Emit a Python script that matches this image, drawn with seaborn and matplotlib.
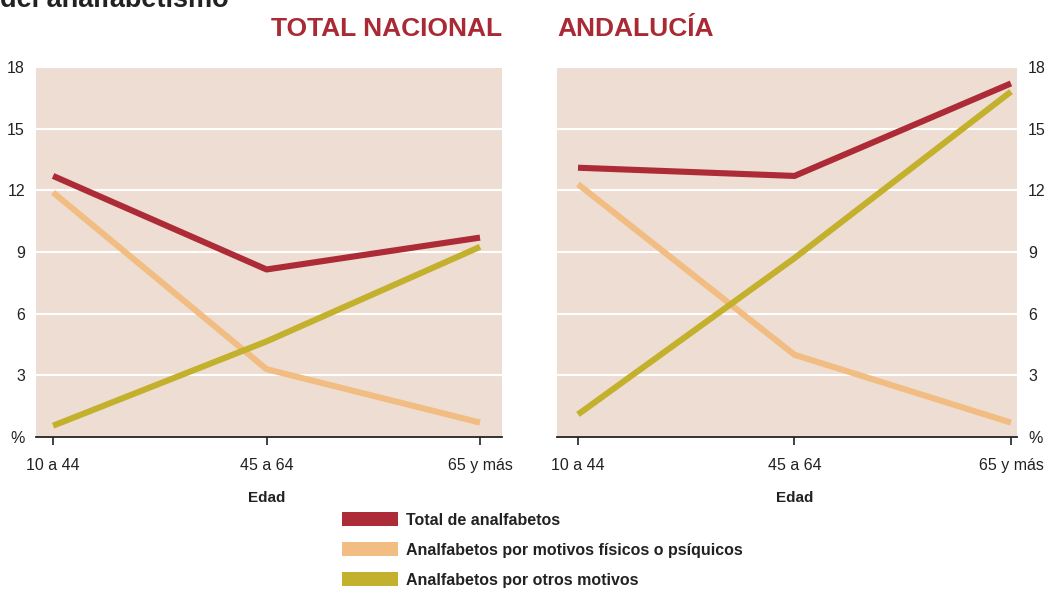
import matplotlib
matplotlib.use("Agg")
import matplotlib.pyplot as plt
from matplotlib.patches import Patch
import seaborn as sns
import pandas as pd

edades = ["10 a 44", "45 a 64", "65 y más"]
series = ["Total de analfabetos",
          "Analfabetos por motivos físicos o psíquicos",
          "Analfabetos por otros motivos"]
nacional_total = [12.7, 8.15, 9.7]
nacional_fisicos = [11.9, 3.3, 0.7]
nacional_otros = [0.55, 4.65, 9.25]
andalucia_total = [13.1, 12.7, 17.2]
andalucia_fisicos = [12.3, 4.0, 0.7]
andalucia_otros = [1.1, 8.7, 16.8]
yticks = [0, 3, 6, 9, 12, 15, 18]
ytick_labels = ["%", "3", "6", "9", "12", "15", "18"]
colores = ["#AC2B37", "#F2BD82", "#C3B12D"]
bg = "#EEDDD2"
title_color = "#A92A35"

def build(total, fis, otros):
    rows = []
    for s, vals in zip(series, [total, fis, otros]):
        for i, (e, v) in enumerate(zip(edades, vals)):
            rows.append({"pos": i, "edad": e, "serie": s, "valor": v})
    return pd.DataFrame(rows)

df_nac = build(nacional_total, nacional_fisicos, nacional_otros)
df_and = build(andalucia_total, andalucia_fisicos, andalucia_otros)

sns.set_style("white")
plt.rcParams["font.family"] = ["Liberation Sans", "DejaVu Sans"]

W, H = 1053, 589
fig = plt.figure(figsize=(W / 100, H / 100), dpi=100)

def px_axes(x0, x1, y0, y1):
    return fig.add_axes([x0 / W, 1 - y1 / H, (x1 - x0) / W, (y1 - y0) / H])

ax1 = px_axes(36, 502, 67, 437)
ax2 = px_axes(557, 1017, 67, 437)

palette = dict(zip(series, colores))
for ax, df, xlim, side, title in [
    (ax1, df_nac, (-0.08, 2.103), "left", "TOTAL NACIONAL"),
    (ax2, df_and, (-0.097, 2.028), "right", "ANDALUCÍA"),
]:
    ax.set_facecolor(bg)
    sns.lineplot(data=df, x="pos", y="valor", hue="serie", palette=palette,
                 hue_order=series, linewidth=4.4, solid_capstyle="butt",
                 legend=False, ax=ax, zorder=3)
    ax.set_xlim(*xlim)
    ax.set_ylim(0, 18)
    ax.set_yticks(yticks)
    ax.set_yticklabels(ytick_labels)
    ax.set_xticks(range(len(edades)))
    ax.set_xticklabels(edades)
    ax.grid(axis="y", color="white", linewidth=1.5, zorder=1)
    ax.set_axisbelow(True)
    for sp in ["top", "left", "right"]:
        ax.spines[sp].set_visible(False)
    ax.spines["bottom"].set_color("#222222")
    ax.spines["bottom"].set_linewidth(1.3)
    ax.tick_params(axis="x", direction="out", length=6, width=1.2,
                   color="#222222", pad=9, labelsize=11.5, labelcolor="#222222", bottom=True)
    ax.tick_params(axis="y", length=0, pad=8, labelsize=11.5, labelcolor="#222222")
    if side == "right":
        ax.yaxis.tick_right()
        ax.tick_params(axis="y", length=0, pad=8)
    ax.set_ylabel("")
    ax.set_xlabel("Edad", fontsize=11, fontweight="bold", color="#222222")
    frac = (1 - xlim[0]) / (xlim[1] - xlim[0])
    ax.xaxis.set_label_coords(frac, -0.147)
    if side == "left":
        ax.text(1.0, 1.083, title, transform=ax.transAxes, ha="right", va="baseline",
                fontsize=19, fontweight="bold", color=title_color)
    else:
        ax.text(0.0, 1.083, title, transform=ax.transAxes, ha="left", va="baseline",
                fontsize=19, fontweight="bold", color=title_color)

fig.text(0.0, 1 - 7 / H, "del analfabetismo", ha="left", va="baseline",
         fontsize=19.5, fontweight="bold", color="#222222")

handles = [Patch(facecolor=c, edgecolor="none", label=s) for s, c in zip(series, colores)]
leg = fig.legend(handles=handles, loc="upper left",
                 bbox_to_anchor=(342 / W, 1 - 512 / H), frameon=False,
                 fontsize=11.5, handlelength=3.5, handleheight=1.0,
                 handletextpad=0.5, labelspacing=0.9, borderpad=0, borderaxespad=0)
for t in leg.get_texts():
    t.set_fontweight("bold")
    t.set_color("#222222")

fig.savefig("out.png", dpi=100)
